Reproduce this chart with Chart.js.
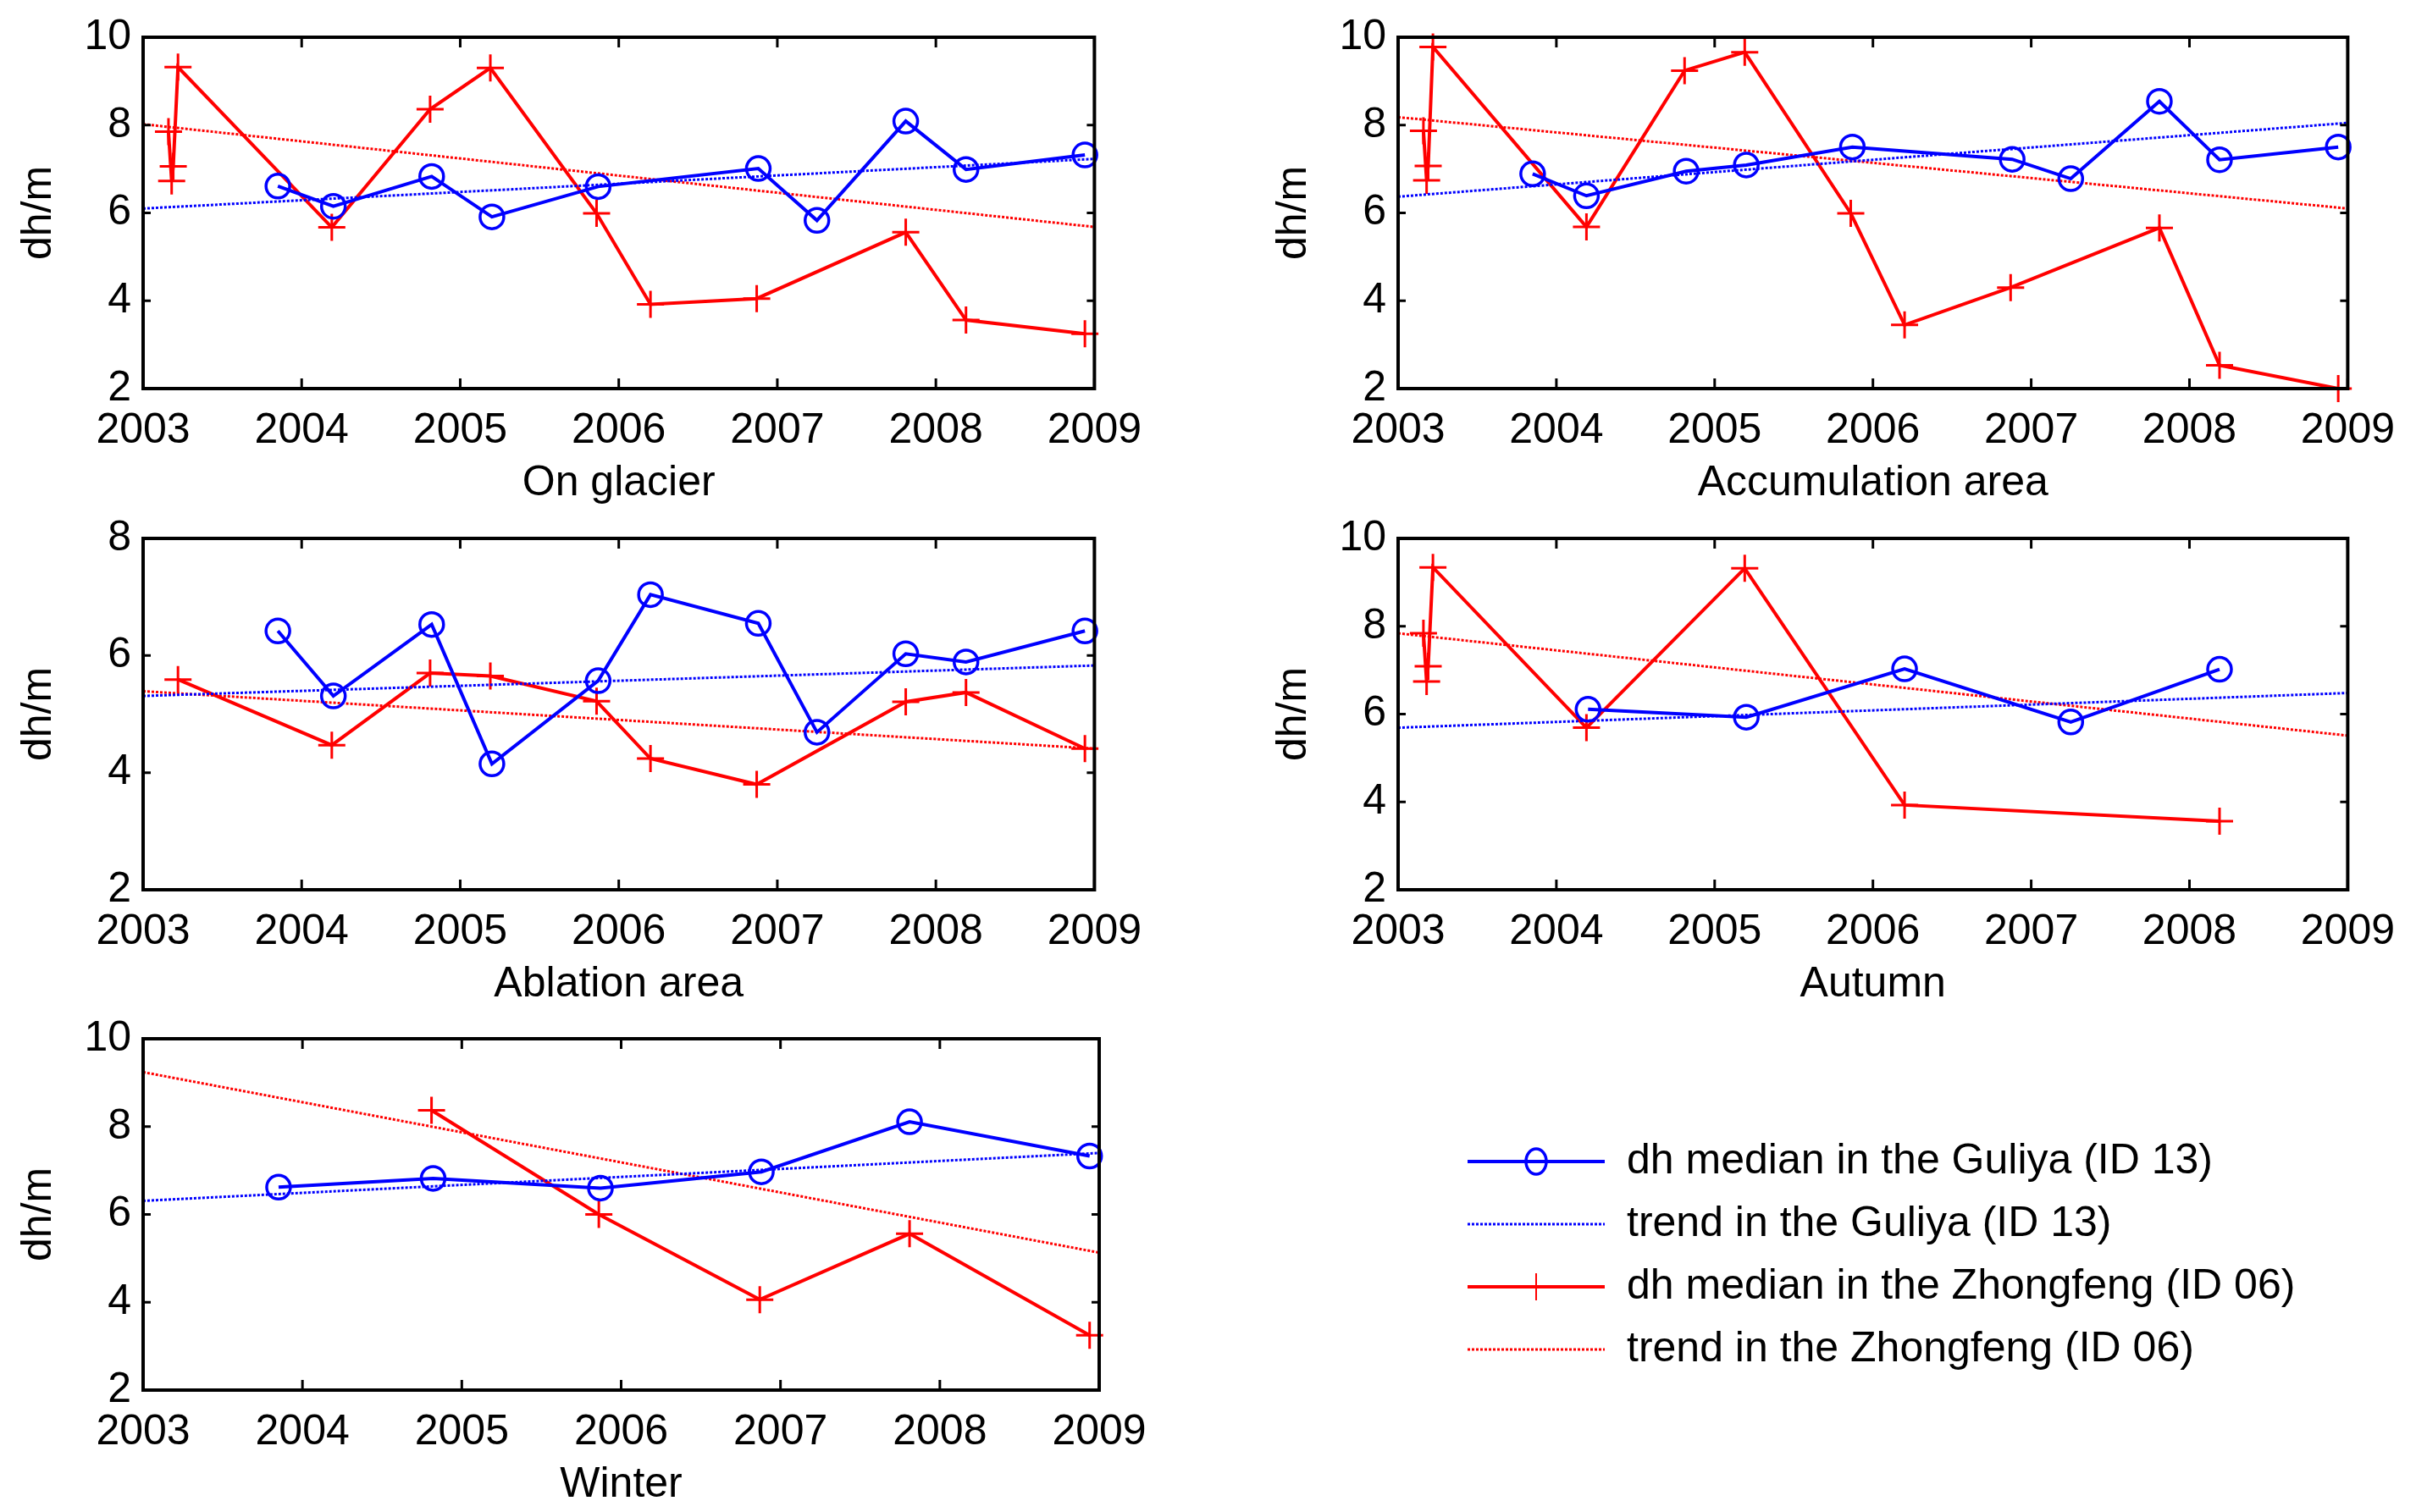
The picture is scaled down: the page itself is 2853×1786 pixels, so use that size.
<!DOCTYPE html>
<html>
<head>
<meta charset="utf-8">
<script src="https://cdn.jsdelivr.net/npm/chart.js@4.4.1/dist/chart.umd.min.js"></script>
<style>
  html, body { margin: 0; padding: 0; background: #fff; width: 2853px; height: 1786px; overflow: hidden; }
  .panel { position: absolute; }
</style>
</head>
<body>
<div class="panel" id="p1"><canvas id="c1"></canvas></div>
<div class="panel" id="p2"><canvas id="c2"></canvas></div>
<div class="panel" id="p3"><canvas id="c3"></canvas></div>
<div class="panel" id="p4"><canvas id="c4"></canvas></div>
<div class="panel" id="p5"><canvas id="c5"></canvas></div>
<script>
// ---- data ----
const trendYears = [2003, 2009];
const seriesLabels = [
  "dh median in the Guliya (ID 13)",
  "trend in the Guliya (ID 13)",
  "dh median in the Zhongfeng (ID 06)",
  "trend in the Zhongfeng (ID 06)",
];

// On glacier
const glacierGuliyaT = [2003.85, 2004.2, 2004.82, 2005.2, 2005.87, 2006.88, 2007.25, 2007.81, 2008.19, 2008.94];
const glacierGuliyaDh = [6.61, 6.15, 6.83, 5.91, 6.6, 7.01, 5.83, 8.09, 6.99, 7.32];
const glacierZhongT = [2003.16, 2003.18, 2003.19, 2003.22, 2004.19, 2004.81, 2005.19, 2005.86, 2006.2, 2006.87, 2007.81, 2008.19, 2008.94];
const glacierZhongDh = [7.85, 6.73, 7.06, 9.32, 5.67, 8.36, 9.3, 5.99, 3.92, 4.05, 5.56, 3.56, 3.25];
const glacierGuliyaTrend = [6.1, 7.23];
const glacierZhongTrend = [8.02, 5.68];

// Accumulation area
const accumGuliyaT = [2003.85, 2004.19, 2004.82, 2005.2, 2005.87, 2006.88, 2007.25, 2007.81, 2008.19, 2008.94];
const accumGuliyaDh = [6.89, 6.39, 6.95, 7.09, 7.5, 7.22, 6.78, 8.54, 7.21, 7.5];
const accumZhongT = [2003.16, 2003.18, 2003.19, 2003.22, 2004.19, 2004.81, 2005.19, 2005.86, 2006.2, 2006.87, 2007.81, 2008.19, 2008.94];
const accumZhongDh = [7.87, 6.74, 7.07, 9.78, 5.68, 9.24, 9.66, 5.99, 3.45, 4.3, 5.66, 2.53, 2.0];
const accumGuliyaTrend = [6.37, 8.05];
const accumZhongTrend = [8.18, 6.1];

// Ablation area
const ablGuliyaT = [2003.85, 2004.2, 2004.82, 2005.2, 2005.87, 2006.2, 2006.88, 2007.25, 2007.81, 2008.19, 2008.94];
const ablGuliyaDh = [6.42, 5.31, 6.53, 4.15, 5.57, 7.04, 6.55, 4.69, 6.03, 5.89, 6.42];
const ablZhongT = [2003.22, 2004.19, 2004.81, 2005.19, 2005.86, 2006.2, 2006.87, 2007.81, 2008.19, 2008.94];
const ablZhongDh = [5.59, 4.47, 5.7, 5.65, 5.22, 4.24, 3.8, 5.21, 5.37, 4.41];
const ablGuliyaTrend = [5.31, 5.83];
const ablZhongTrend = [5.39, 4.41];

// Autumn
const autGuliyaT = [2004.2, 2005.2, 2006.2, 2007.25, 2008.19];
const autGuliyaDh = [6.11, 5.93, 7.03, 5.82, 7.02];
const autZhongT = [2003.16, 2003.18, 2003.19, 2003.22, 2004.19, 2005.19, 2006.2, 2008.19];
const autZhongDh = [7.84, 6.74, 7.09, 9.34, 5.69, 9.32, 3.93, 3.56];
const autGuliyaTrend = [5.69, 6.48];
const autZhongTrend = [7.84, 5.51];

// Winter
const winGuliyaT = [2003.85, 2004.82, 2005.87, 2006.88, 2007.81, 2008.94];
const winGuliyaDh = [6.62, 6.82, 6.6, 6.97, 8.11, 7.33];
const winZhongT = [2004.81, 2005.86, 2006.87, 2007.81, 2008.94];
const winZhongDh = [8.37, 6.0, 4.06, 5.56, 3.25];
const winGuliyaTrend = [6.31, 7.4];
const winZhongTrend = [9.24, 5.13];

// ---- layout ----
const FONT = "'Liberation Sans', Arial, Helvetica, sans-serif";
const YW = 160;   // y scale box width
const XH = 150;   // x scale box height
const PAD_TOP = 40;
const PAD_RIGHT = 70;

const pts = (t, v) => t.map((x, i) => ({ x: x, y: v[i] }));

// box with inward ticks, matlab style
const framePlugin = {
  id: "frame",
  afterDatasetsDraw(chart) {
    const { ctx, chartArea: a, scales } = chart;
    ctx.save();
    ctx.strokeStyle = "#000";
    ctx.lineWidth = 3;
    ctx.beginPath();
    scales.x.ticks.forEach((t) => {
      const px = scales.x.getPixelForValue(t.value);
      ctx.moveTo(px, a.bottom); ctx.lineTo(px, a.bottom - 12);
      ctx.moveTo(px, a.top); ctx.lineTo(px, a.top + 12);
    });
    scales.y.ticks.forEach((t) => {
      const py = scales.y.getPixelForValue(t.value);
      ctx.moveTo(a.left, py); ctx.lineTo(a.left + 9, py);
      ctx.moveTo(a.right, py); ctx.lineTo(a.right - 9, py);
    });
    ctx.stroke();
    ctx.lineWidth = 4;
    ctx.strokeRect(a.left, a.top, a.right - a.left, a.bottom - a.top);
    ctx.restore();
  },
};

// legend drawn next to the last panel, line sample with marker through it
function legendPlugin(x0, x1, xt, rows) {
  return {
    id: "sideLegend",
    afterDraw(chart) {
      const ctx = chart.ctx;
      ctx.save();
      chart.data.datasets.forEach((ds, i) => {
        const y = rows[i];
        ctx.strokeStyle = ds.borderColor;
        ctx.lineWidth = ds.borderWidth;
        ctx.setLineDash(ds.borderDash || []);
        ctx.beginPath();
        ctx.moveTo(x0, y); ctx.lineTo(x1, y);
        ctx.stroke();
        ctx.setLineDash([]);
        const xm = (x0 + x1) / 2;
        if (ds.pointRadius > 0) {
          ctx.beginPath();
          if (ds.pointStyle === "circle") {
            ctx.lineWidth = ds.pointBorderWidth;
            ctx.ellipse(xm, y, ds.pointRadius - 2, ds.pointRadius + 1, 0, 0, Math.PI * 2);
          } else {
            ctx.lineWidth = 2;
            ctx.moveTo(xm, y - ds.pointRadius); ctx.lineTo(xm, y + ds.pointRadius);
          }
          ctx.stroke();
        }
        ctx.fillStyle = "#000";
        ctx.font = "50px " + FONT;
        ctx.textBaseline = "middle";
        ctx.fillText(ds.label, xt, y);
      });
      ctx.restore();
    },
  };
}

function makePanel(n, area, title, yMax, gT, gDh, zT, zDh, gTrend, zTrend, extraRight, legend) {
  const left = area[0] - YW;
  const top = area[1] - PAD_TOP;
  const padRight = PAD_RIGHT + (extraRight || 0);
  const w = area[2] - area[0] + YW + padRight;
  const h = area[3] - area[1] + PAD_TOP + XH;
  const box = document.getElementById("p" + n);
  box.style.left = left + "px";
  box.style.top = top + "px";
  box.style.width = w + "px";
  box.style.height = h + "px";

  const plugins = [framePlugin];
  if (legend) {
    plugins.push(legendPlugin(legend.x0 - left, legend.x1 - left, legend.xt - left,
      legend.rows.map((r) => r - top)));
  }

  new Chart(document.getElementById("c" + n), {
    type: "line",
    data: {
      datasets: [
        {
          label: seriesLabels[0],
          data: pts(gT, gDh),
          borderColor: "#0000ff",
          borderWidth: 4,
          pointStyle: "circle",
          pointRadius: 14,
          pointBorderWidth: 3.5,
          pointBackgroundColor: "rgba(0,0,0,0)",
          pointBorderColor: "#0000ff",
        },
        {
          label: seriesLabels[1],
          data: pts(trendYears, gTrend),
          borderColor: "#0000ff",
          borderWidth: 3,
          borderDash: [3, 2],
          pointRadius: 0,
        },
        {
          label: seriesLabels[2],
          data: pts(zT, zDh),
          borderColor: "#ff0000",
          borderWidth: 4,
          pointStyle: "cross",
          pointRadius: 16,
          pointBorderWidth: 3,
          pointBorderColor: "#ff0000",
        },
        {
          label: seriesLabels[3],
          data: pts(trendYears, zTrend),
          borderColor: "#ff0000",
          borderWidth: 3,
          borderDash: [3, 2],
          pointRadius: 0,
        },
      ],
    },
    options: {
      responsive: true,
      maintainAspectRatio: false,
      devicePixelRatio: 1,
      animation: false,
      events: [],
      layout: { padding: { left: 0, top: PAD_TOP, right: padRight, bottom: 0 } },
      elements: { line: { tension: 0 } },
      datasets: { line: { clip: false } },
      plugins: {
        legend: { display: false },
        tooltip: { enabled: false },
      },
      scales: {
        x: {
          type: "linear",
          min: 2003,
          max: 2009,
          grid: { display: false, drawTicks: false },
          border: { display: false },
          ticks: {
            stepSize: 1,
            padding: 20,
            color: "#000",
            font: { family: FONT, size: 50 },
            callback: (v) => String(v),
          },
          title: {
            display: true,
            text: title,
            color: "#000",
            padding: { top: 0, bottom: 8 },
            font: { family: FONT, size: 50 },
          },
          afterFit: (s) => { s.height = XH; },
        },
        y: {
          min: 2,
          max: yMax,
          grid: { display: false, drawTicks: false },
          border: { display: false },
          ticks: {
            stepSize: 2,
            padding: 14,
            color: "#000",
            font: { family: FONT, size: 50 },
          },
          title: {
            display: true,
            text: "dh/m",
            color: "#000",
            padding: { top: 7, bottom: 0 },
            font: { family: FONT, size: 50 },
          },
          afterFit: (s) => { s.width = YW; },
        },
      },
    },
    plugins: plugins,
  });
}

// chart areas: [left, top, right, bottom] in page pixels
makePanel(1, [169, 40, 1298, 459], "On glacier", 10,
  glacierGuliyaT, glacierGuliyaDh, glacierZhongT, glacierZhongDh, glacierGuliyaTrend, glacierZhongTrend);
makePanel(2, [1651, 40, 2778, 459], "Accumulation area", 10,
  accumGuliyaT, accumGuliyaDh, accumZhongT, accumZhongDh, accumGuliyaTrend, accumZhongTrend);
makePanel(3, [169, 632, 1298, 1051], "Ablation area", 8,
  ablGuliyaT, ablGuliyaDh, ablZhongT, ablZhongDh, ablGuliyaTrend, ablZhongTrend);
makePanel(4, [1651, 632, 2778, 1051], "Autumn", 10,
  autGuliyaT, autGuliyaDh, autZhongT, autZhongDh, autGuliyaTrend, autZhongTrend);
makePanel(5, [169, 1223, 1298, 1642], "Winter", 10,
  winGuliyaT, winGuliyaDh, winZhongT, winZhongDh, winGuliyaTrend, winZhongTrend,
  1480, { x0: 1733, x1: 1895, xt: 1921, rows: [1372, 1446, 1520, 1594] });
</script>
</body>
</html>
